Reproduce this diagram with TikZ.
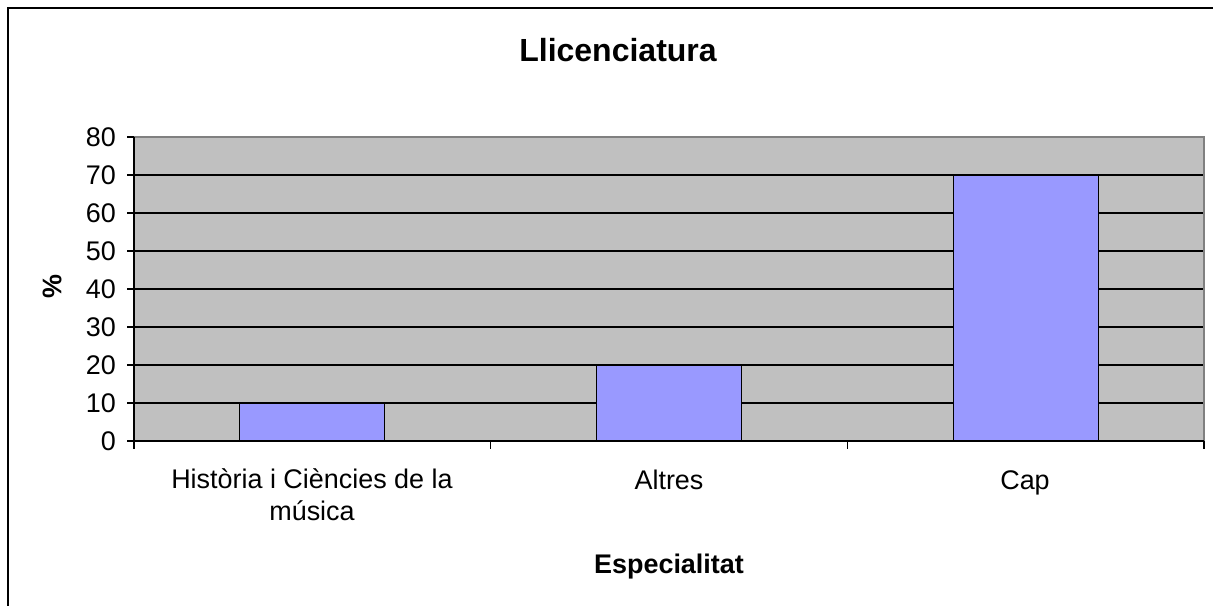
\documentclass[tikz,border=0pt]{standalone}
\usepackage{fontspec}
\setmainfont{Liberation Sans}
\usetikzlibrary{positioning}
\definecolor{plotgray}{HTML}{C0C0C0}
\definecolor{barblue}{HTML}{9999FF}
\tikzset{
  ticklabel/.style={font=\fontsize{20.2}{23.5}\selectfont, inner sep=0pt},
  axistitle/.style={font=\fontsize{20.2}{23.5}\selectfont\bfseries, inner sep=0pt},
  bar/.style={draw=black, fill=barblue, line width=0.9pt},
}

\begin{document}
\begin{tikzpicture}[x=0.75pt, y=-0.75pt]
  \useasboundingbox (0,0) rectangle (1213,606);
  % chart frame (runs off the page)
  \draw[line width=1.2pt] (8,650) -- (8,8) -- (1260,8);

  % plot area and grid
  \fill[plotgray] (134,137) rectangle (1204,441);
  \foreach \v in {10,20,...,70} {
    \draw[line width=0.9pt] (134,441-3.8*\v) -- (1204,441-3.8*\v);
  }
  \draw[gray, line width=0.9pt] (134,137) -- (1204,137) -- (1204,441);

  % bars
  \foreach \c/\val in {1/10,2/20,3/70} {
    \pgfmathsetmacro\xc{134+356.67*(\c-0.5)}
    \draw[bar] (\xc-72.5,441) rectangle (\xc+72.5,441-3.8*\val);
  }

  % axes and ticks
  \draw[line width=1pt] (134,137) -- (134,441) -- (1204,441);
  \foreach \v in {0,10,...,80} {
    \draw[line width=1pt] (127,441-3.8*\v) -- (134,441-3.8*\v);
    \node[ticklabel, anchor=east] (ytick\v) at (116,441-3.8*\v) {\v};
  }
  \foreach \c in {0,1,2,3} {
    \draw[line width=1pt] (134+356.67*\c,441) -- (134+356.67*\c,449);
  }

  % labels
  \node[ticklabel, anchor=base, align=center] (cat1) at (312,520) {Història i Ciències de la\\música};
  \node[ticklabel, anchor=base] (cat2) at (669,489) {Altres};
  \node[ticklabel, anchor=base] (cat3) at (1025,489) {Cap};
  \node[font=\fontsize{24}{28}\selectfont\bfseries, inner sep=0pt, anchor=base] (title) at (618,62) {Llicenciatura};
  \node[axistitle, anchor=base] (xlabel) at (669,573) {Especialitat};
  \node[axistitle, rotate=90] (ylabel) at (52,287) {\%};
\end{tikzpicture}
\end{document}
